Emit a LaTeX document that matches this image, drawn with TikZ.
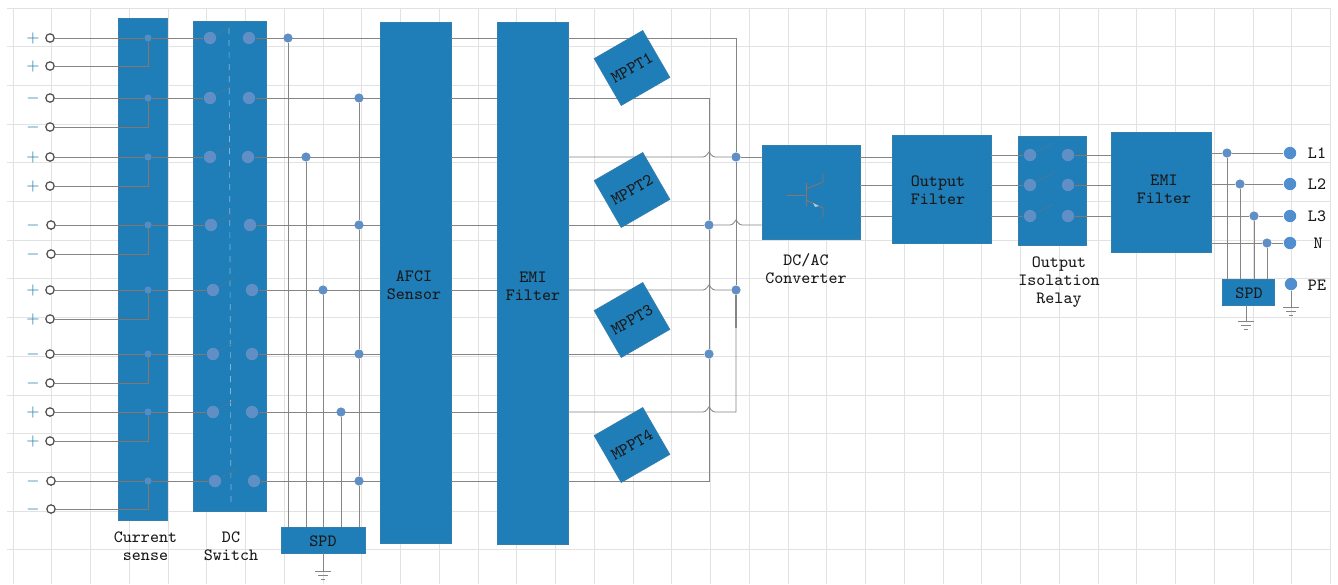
\documentclass[tikz,border=0pt]{standalone}
\definecolor{blockblue}{HTML}{1F7DB8}
\definecolor{wiregray}{HTML}{858585}
\definecolor{gridgray}{HTML}{E2E2E2}
\definecolor{dotblue}{HTML}{5F8FC4}
\definecolor{termblue}{HTML}{4F8FD0}
\definecolor{signblue}{HTML}{2B86AD}
\definecolor{wirebrown}{HTML}{8A7568}
\tikzset{
  block/.style={draw=blockblue!80!gray,fill=blockblue,line width=0.4pt,inner sep=0pt},
  lbl/.style={font=\ttfamily\fontsize{8.6}{9.1}\selectfont,align=center,inner sep=0pt,text=black!90},
  wire/.style={draw=wiregray,line width=0.42pt},
  wirein/.style={draw=wirebrown,line width=0.42pt},
  faint/.style={draw=blockblue!65!wirebrown,line width=0.35pt},
  swdot/.style={circle,fill=dotblue,inner sep=0pt,minimum size=6.2pt},
  sensedot/.style={circle,fill=dotblue!85!blockblue,inner sep=0pt,minimum size=3.6pt},
  busdot/.style={circle,fill=dotblue,inner sep=0pt,minimum size=4.6pt},
  termopen/.style={circle,draw=black!70,fill=white,line width=0.6pt,inner sep=0pt,minimum size=4.2pt},
  termfull/.style={circle,fill=termblue,inner sep=0pt,minimum size=6.2pt},
  signlbl/.style={font=\fontsize{8}{8}\selectfont,text=signblue,inner sep=0pt},
}
% small bump where a wire crosses another one
\newcommand{\wirehop}[2]{-- (#1-6,#2) .. controls (#1-3,#2) and (#1-1,#2-4) .. (#1,#2-5) .. controls (#1+1,#2-4) and (#1+3,#2) .. (#1+6,#2)}
\newcommand{\earthmark}[1]{\draw[wire] (#1) ++(-8,0) -- ++(16,0) ++(-13,4) -- ++(10,0) ++(-7,4) -- ++(4,0);}
\begin{document}
\begin{tikzpicture}[x=0.5pt,y=-0.5pt]
\useasboundingbox (0,0) rectangle (1338,584);
\fill[white] (0,0) rectangle (1338,584);
% grid
\foreach \k in {0,...,34} \draw[gridgray,line width=0.5pt] (13+38.75*\k,8) -- (13+38.75*\k,584);
\foreach \k in {0,...,14} \draw[gridgray,line width=0.5pt] (7,8+38.7*\k) -- (1331,8+38.7*\k);
% blocks
\node[block,minimum width=24.5pt,minimum height=251pt] (sense) at (142.5,269) {};
\node[block,minimum width=36.5pt,minimum height=245pt] (dcsw) at (229.5,266) {};
\node[block,minimum width=35.5pt,minimum height=260.5pt] (afci) at (415.5,282.5) {};
\node[block,minimum width=35.5pt,minimum height=261pt] (emi) at (532.5,283) {};
\node[block,minimum width=42pt,minimum height=13pt] (spd) at (323,540) {};
\node[block,minimum width=49pt,minimum height=47pt] (conv) at (811,192) {};
\node[block,minimum width=49.5pt,minimum height=54pt] (ofilter) at (941.5,189) {};
\node[block,minimum width=34pt,minimum height=54.5pt] (relay) at (1052,190.5) {};
\node[block,minimum width=50pt,minimum height=60pt] (emib) at (1161,192) {};
\node[block,minimum width=26pt,minimum height=13pt] (spdb) at (1248,292) {};
% switch pole line
\draw[dashed,draw=blockblue!55!white,line width=0.35pt] (229,28) -- (231,505);
% input rows
\foreach \i/\sign/\ya/\yb/\xl/\xr/\xt in {1/+/38/66/210/249/50,2/-/98/127/210/249/50,3/+/157/186/210/248/50,4/-/225/254/211/250/51,5/+/290/319/213/252/50,6/-/354/383/213/252/50,7/+/412/441/213/252/50,8/-/481/509/215/254/51} {
  \node[signlbl] (sa\i) at (33,\ya) {$\sign$};
  \node[signlbl] (sb\i) at (33,\yb) {$\sign$};
  \node[termopen] (ta\i) at (\xt,\ya) {};
  \node[termopen] (tb\i) at (\xt,\yb) {};
  \node[sensedot] (c\i) at (148,\ya) {};
  \node[swdot] (l\i) at (\xl,\ya) {};
  \node[swdot] (r\i) at (\xr,\ya) {};
  \draw[wire] (ta\i) -- (ta\i -| sense.west);
  \draw[wirein] (ta\i -| sense.west) -- (c\i);
  \draw[wire] (tb\i) -- (tb\i -| sense.west);
  \draw[wirein] (tb\i -| sense.west) -| (c\i);
  \draw[wirein] (c\i) -- (c\i -| sense.east);
  \draw[wire] (c\i -| sense.east) -- (c\i -| dcsw.west);
  \draw[wirein] (c\i -| dcsw.west) -- (l\i);
  \draw[faint] (l\i) -- ++(22,-12);
  \draw[wirein] (r\i) -- (r\i -| dcsw.east);
  \draw[wire] (r\i -| dcsw.east) -- (r\i -| afci.west);
  \draw[wire] (r\i -| afci.east) -- (r\i -| emi.west);
}
% surge protection tap points
\foreach \n/\x/\y in {a/288/38,b/306/157,c/323/290,d/341/412,e/359/98,f/359/225,g/359/354,h/359/481}
  \node[busdot] (tap\n) at (\x,\y) {};
\foreach \n in {a,b,c,d,h}
  \draw[wire] (tap\n) -- (tap\n |- spd.north);
\draw[wire] (tape) -- (tapf) -- (tapg) -- (taph);
\coordinate (gnda) at (323,571);
\draw[wire] (spd.south) -- (gnda);
\earthmark{gnda}
% dc bus
\node[busdot] (posa) at (736,157) {};
\node[busdot] (posb) at (736,290) {};
\node[busdot] (nega) at (709,225) {};
\node[busdot] (negb) at (709,354) {};
\draw[wire] (r1 -| emi.east) -| (posa);
\draw[wire] (r3 -| emi.east) \wirehop{709}{157} -- (posa);
\draw[wire] (posa) -- (posa -| conv.west);
\draw[wire] (posa) -- (posb);
\draw[wire] (r5 -| emi.east) \wirehop{709}{290} -- (posb);
\draw[wire] (r7 -| emi.east) \wirehop{709}{412} -| (posb);
\draw[wire,line width=0.8pt] (posb) -- ++(0,38);
\draw[wire] (r2 -| emi.east) -| (nega);
\draw[wire] (r4 -| emi.east) -- (nega);
\draw[wire] (nega) \wirehop{736}{225} -- (nega -| conv.west);
\draw[wire] (nega) -- (negb);
\draw[wire] (r6 -| emi.east) -- (negb);
\draw[wire] (r8 -| emi.east) -| (negb);
% the tilted boxes lie over the wires
\foreach \n/\y in {1/68,2/190,3/320,4/445}
  \node[block,rotate=30,minimum width=28pt,minimum height=27pt,font=\ttfamily\fontsize{8.6}{9}\selectfont,text=black!90] (mppt\n) at (632,\y) {MPPT\n};
% transistor mark
\draw[wirein] (787,195) -- (805,195);
\draw[wirein] (806,183) -- (806,206);
\draw[wirein] (806,189) -- (823,182) -- (823,173);
\draw[wirein] (806,200) -- (823,208) -- (823,217);
\fill[blockblue!40!white] (819,206) -- (813,203) -- (815,207) -- cycle;
% output stage
\foreach \n/\ya/\yb in {1/157/155,2/185/185,3/216/216} {
  \node[swdot] (ol\n) at (1030,\yb) {};
  \node[swdot] (or\n) at (1068,\yb) {};
  \draw[wire] (conv.east |- 0,\ya) -- (ofilter.west |- 0,\ya);
  \draw[wire] (ofilter.east |- ol\n) -- (relay.west |- ol\n);
  \draw[wirein] (relay.west |- ol\n) -- (ol\n);
  \draw[wirein] (or\n) -- (relay.east |- or\n);
  \draw[wire] (relay.east |- or\n) -- (emib.west |- or\n);
  \draw[faint] (ol\n) -- ++(24,-12);
}
% grid side
\foreach \n/\txt/\y/\xt/\xo in {1/L1/153/1227/1317,2/L2/184/1240/1317,3/L3/216/1254/1317,4/N/243/1267/1318} {
  \node[termfull] (line\n) at (1290,\y) {};
  \node[busdot] (lt\n) at (\xt,\y) {};
  \node[lbl] (linelbl\n) at (\xo,\y) {\txt};
  \draw[wire] (emib.east |- line\n) -- (lt\n) -- (line\n);
  \draw[wire] (lt\n) -- (lt\n |- spdb.north);
}
\node[termfull] (pe) at (1291,284) {};
\node[lbl] (pelbl) at (1317,285) {PE};
\coordinate (gndb) at (1246,321);
\coordinate (gndc) at (1291,307);
\draw[wire] (spdb.south -| gndb) -- (gndb);
\earthmark{gndb}
\draw[wire] (pe) -- (gndc);
\earthmark{gndc}
% labels
\node[lbl] (sensetxt) at (145.5,546) {Current\\sense};
\node[lbl] (dcswtxt) at (231,546) {DC\\Switch};
\node[lbl] (spdtxt) at (323,541) {SPD};
\node[lbl] (afcitxt) at (414,285) {AFCI\\Sensor};
\node[lbl] (emitxt) at (533,286) {EMI\\Filter};
\node[lbl] (convtxt) at (806,269) {DC/AC\\Converter};
\node[lbl] (ofiltertxt) at (938,190) {Output\\Filter};
\node[lbl] (relaytxt) at (1059,282) {Output\\Isolation\\Relay};
\node[lbl] (emibtxt) at (1164,189) {EMI\\Filter};
\node[lbl] (spdbtxt) at (1249,293) {SPD};
\end{tikzpicture}
\end{document}
